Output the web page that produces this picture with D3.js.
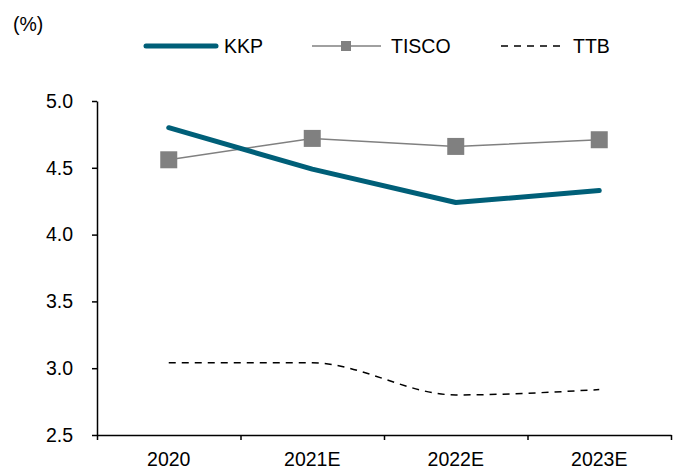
<!DOCTYPE html>
<html>
<head>
<meta charset="utf-8">
<script src="https://cdn.jsdelivr.net/npm/d3@7"></script>
<style>
  body { margin: 0; background: #fff; }
  svg text { font-family: "Liberation Sans", Arial, sans-serif; fill: #000; }
</style>
</head>
<body>
<div id="chart"></div>
<script>
// data
var categories = ["2020", "2021E", "2022E", "2023E"];
var kkp   = [4.80, 4.49, 4.24, 4.33];
var tisco = [4.56, 4.72, 4.66, 4.71];
var ttb   = [3.04, 3.04, 2.80, 2.84];
var yTicks = [2.5, 3.0, 3.5, 4.0, 4.5, 5.0];

var width = 683, height = 470;
var margin = {top: 101, right: 12, bottom: 35, left: 97};

var svg = d3.select("#chart").append("svg")
    .attr("width", width)
    .attr("height", height);

var x = d3.scaleBand()
    .domain(categories)
    .range([margin.left, width - margin.right]);

// edges of the categories, for the tick marks
var xEdge = d3.scaleLinear()
    .domain([0, categories.length])
    .range([margin.left, width - margin.right]);

var y = d3.scaleLinear()
    .domain([2.5, 5.0])
    .range([height - margin.bottom, margin.top]);

// y axis
var yAxis = d3.axisLeft(y)
    .tickValues(yTicks)
    .tickFormat(d3.format(".1f"))
    .tickSize(5)
    .tickSizeOuter(0)
    .tickPadding(19);

var gy = svg.append("g")
    .attr("transform", "translate(" + margin.left + ",0)")
    .call(yAxis);
gy.selectAll("text").style("font-size", "19.5px");

// x axis: tick marks at category edges, labels centered
var gxTicks = svg.append("g")
    .attr("transform", "translate(0," + y(2.5) + ")")
    .call(d3.axisBottom(xEdge).ticks(categories.length).tickFormat("").tickSize(5).tickSizeOuter(0));

var gx = svg.append("g")
    .attr("transform", "translate(0," + y(2.5) + ")")
    .call(d3.axisBottom(x).tickSize(0).tickPadding(17));
gx.select(".domain").remove();
gx.selectAll("text").style("font-size", "19.5px");

svg.selectAll(".domain, .tick line").attr("stroke", "#000").attr("stroke-width", 1.5);

var cx = function(d, i) { return x(categories[i]) + x.bandwidth() / 2; };

// TTB dashed, smoothed
svg.append("path")
    .datum(ttb)
    .attr("fill", "none")
    .attr("stroke", "#000")
    .attr("stroke-width", 1.5)
    .attr("stroke-dasharray", "7,6")
    .attr("d", d3.line().x(cx).y(function(d) { return y(d); }).curve(d3.curveMonotoneX));

// TISCO grey with square markers
svg.append("path")
    .datum(tisco)
    .attr("fill", "none")
    .attr("stroke", "#808080")
    .attr("stroke-width", 1.5)
    .attr("d", d3.line().x(cx).y(function(d) { return y(d); }));

// KKP thick teal
svg.append("path")
    .datum(kkp)
    .attr("fill", "none")
    .attr("stroke", "#005F78")
    .attr("stroke-width", 5)
    .attr("stroke-linecap", "round")
    .attr("stroke-linejoin", "round")
    .attr("d", d3.line().x(cx).y(function(d) { return y(d); }));

svg.selectAll(".tiscoMark").data(tisco).enter()
    .append("rect")
    .attr("class", "tiscoMark")
    .attr("x", function(d, i) { return cx(d, i) - 8.5; })
    .attr("y", function(d) { return y(d) - 8.5; })
    .attr("width", 17)
    .attr("height", 17)
    .attr("fill", "#808080");

// unit label
svg.append("text")
    .attr("x", 13)
    .attr("y", 31)
    .style("font-size", "19.5px")
    .text("(%)");

// legend
var ly = 46;
var legend = svg.append("g");

legend.append("line")
    .attr("x1", 146).attr("x2", 216).attr("y1", ly).attr("y2", ly)
    .attr("stroke", "#005F78").attr("stroke-width", 5).attr("stroke-linecap", "round");
legend.append("text").attr("x", 224).attr("y", ly + 7).style("font-size", "19.5px").text("KKP");

legend.append("line")
    .attr("x1", 312).attr("x2", 381).attr("y1", ly).attr("y2", ly)
    .attr("stroke", "#808080").attr("stroke-width", 1.5);
legend.append("rect")
    .attr("x", 341).attr("y", ly - 5).attr("width", 10).attr("height", 10)
    .attr("fill", "#808080");
legend.append("text").attr("x", 391).attr("y", ly + 7).style("font-size", "19.5px").text("TISCO");

legend.append("line")
    .attr("x1", 501).attr("x2", 564).attr("y1", ly).attr("y2", ly)
    .attr("stroke", "#000").attr("stroke-width", 1.5).attr("stroke-dasharray", "7,6");
legend.append("text").attr("x", 573).attr("y", ly + 7).style("font-size", "19.5px").text("TTB");
</script>
</body>
</html>
